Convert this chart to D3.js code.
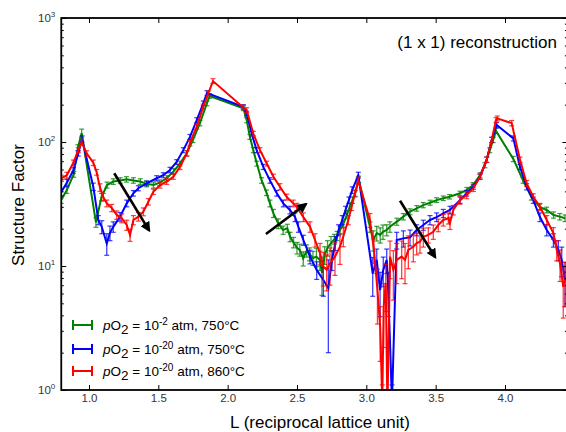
<!DOCTYPE html>
<html><head><meta charset="utf-8">
<script src="https://cdn.jsdelivr.net/npm/d3@7"></script>
<style>body{margin:0;background:#fff}</style>
</head><body>
<svg id="chart" width="566" height="432"></svg>
<script>
// [L, structure factor, error]
const greenData = [
[0.80,34,2],[0.84,41,2.5],[0.89,55,3],[0.92,90,5],[0.947,118,9],
[1.05,22.5,2],[1.09,36,2.5],[1.13,45,2.5],[1.175,48,2.5],[1.225,49,2.5],[1.27,50,2.5],[1.32,49,2.5],
[1.37,48,2.5],[1.415,46,2.5],[1.465,45,2.5],[1.51,47,2.5],[1.56,51,2.5],[1.61,58,3],[1.655,67,3],
[1.705,81,4],[1.75,104,5],[1.80,142,7],[1.85,205,9],[1.87,235,10],
[2.113,187,8],[2.137,150,7],[2.16,110,5],[2.185,86,4],[2.21,67,3],[2.245,49,2.5],[2.28,39,2],
[2.305,32,2],[2.33,26.6,2],[2.365,22,2],[2.40,19.5,1.5],[2.43,20.2,1.5],[2.45,17.2,1.5],[2.475,15.5,1.5],
[2.50,14.0,1.5],[2.52,13.5,1.5],[2.545,11.5,1.5],[2.57,13.3,1.5],[2.59,12.5,1.5],[2.615,11.6,1.5],
[2.64,11.9,2],[2.665,11.2,2],[2.68,8.8,3],[2.70,12.3,2],[2.72,14.0,2],[2.745,15.3,2],[2.77,16.5,1.5],
[2.79,17.5,1.5],[2.81,19.5,1.5],[2.835,22,1.5],[2.86,26,2],[2.88,30,2],[2.90,34,2],[2.92,38.5,2],[2.945,50,3],
[3.026,20.7,2],[3.05,16.2,3],[3.075,18.4,2.5],[3.10,17.8,2.5],[3.12,18.9,2.5],[3.147,19.5,2],[3.17,20.7,2],
[3.22,22.8,1.5],[3.267,25,1.5],[3.315,27.4,1.5],[3.363,29.2,1.5],[3.41,31,1.5],[3.46,32.4,1.5],
[3.507,34,1.5],[3.555,35.2,1.5],[3.60,36.2,1.5],[3.675,38.6,1.5],[3.725,41,2],[3.77,45,2],[3.82,54,2.5],
[3.855,65,3],[3.89,86,4],[3.915,104,5],[3.935,123,6],
[4.06,73,3.5],[4.13,49,2.5],[4.19,36,2],[4.25,30,1.5],[4.30,28.3,1.5],[4.35,25.8,1.5],[4.395,25,1.5],[4.433,24.3,1.5]
];
const blueData = [
[0.80,39.5,2.5],[0.84,47,3],[0.887,59,3],[0.923,81,4],[0.95,106,6],
[1.031,43.6,3],[1.067,23.5,2],[1.092,20.7,2.5],[1.128,15.2,3],[1.151,18.5,2.5],[1.175,20.7,2],[1.224,25,2],
[1.272,32,2],[1.32,38.6,2],[1.356,42.4,2],[1.416,46.4,2],[1.488,51,2.5],[1.536,54,2.5],[1.584,59.5,3],
[1.632,69,3],[1.68,86,4],[1.728,110,5],[1.777,150,7],[1.824,205,9],[1.851,248,11],
[2.113,192,8],[2.137,170,7],[2.173,117,5],[2.209,86,4],[2.257,63,3],[2.305,49,2.5],[2.354,38.6,2],
[2.401,32,2],[2.449,28.3,2],[2.486,24.8,2],[2.51,20.7,2],[2.546,16.2,1.5],[2.594,11.9,1.5],[2.642,9.3,1.5],
[2.69,7.7,2],[2.726,6.6,4.6],[2.752,11.2,2],[2.776,15.3,2],[2.80,19.5,2],[2.826,23.5,2],[2.85,28.3,2],
[2.874,34,2],[2.898,41,2.5],[2.942,54,3],
[3.046,8.7,3],[3.075,11.2,2.5],[3.099,6.4,2.5],[3.122,9.3,2.5],[3.147,11.2,2.5],[3.158,6.4,2.5],[3.185,0.8,0.3],
[3.219,16.2,2.5],[3.267,16.7,2.5],[3.315,17,2.5],[3.363,19.5,2],[3.411,21.4,2],[3.459,23.5,2],[3.507,24.8,2],
[3.555,26.6,2],[3.603,28.3,2],[3.676,34,2],[3.724,38.6,2],[3.772,43.6,2],[3.82,52.5,2.5],[3.868,72,3.5],
[3.904,104,5],[3.94,137,7],
[4.06,107,5],[4.108,63,3],[4.156,43.6,2.5],[4.204,34,2],[4.252,24.8,2],[4.301,19.5,2],[4.349,16.2,2],
[4.385,13.5,2.5],[4.409,11.2,3],[4.433,7.7,3]
];
const redData = [
[0.80,51,3],[0.84,54,3],[0.887,68,3.5],[0.923,86,4],[0.947,100,5],
[0.983,81,4],[1.031,68,3.5],[1.055,57,3],[1.079,43,3],[1.103,36,2.5],[1.128,32,2],[1.164,29.4,2],
[1.20,25.8,2],[1.236,24.3,2],[1.272,21.4,2],[1.296,17.8,2],[1.32,23.5,2],[1.356,25,2],[1.392,27.4,2],
[1.428,33,2],[1.464,39.7,2],[1.512,45,2.5],[1.56,48,2.5],[1.608,52.5,2.5],[1.656,63,3],[1.705,81,4],
[1.728,98,5],[1.777,133,6],[1.824,193,9],[1.86,247,11],[1.894,310,14],
[2.113,190,8],[2.137,181,8],[2.185,117,5],[2.233,86,4],[2.282,67,3],[2.33,52.5,2.5],[2.377,43.6,2.5],
[2.426,36,2],[2.473,32,2],[2.498,30,2],[2.546,24.8,2],[2.594,20.7,2],[2.63,16.2,2],[2.666,12.7,2.5],
[2.69,9.9,3],[2.714,9.3,3],[2.738,10.5,3.5],[2.774,11.9,3.5],[2.81,14.3,4],[2.834,17.3,3],[2.87,23.5,2],
[2.894,30,2],[2.918,38.5,2.5],[2.942,49,3],
[3.026,23.5,3],[3.055,13.5,3],[3.08,6.4,3],[3.10,3.2,1.5],[3.115,0.8,0.3],[3.125,4.7,2.5],[3.14,7.3,3],
[3.152,0.7,0.3],[3.171,11.9,4],[3.195,9.3,4],[3.219,11.2,4],[3.255,11.9,4],[3.279,11.2,4],[3.303,13.5,4],
[3.339,14.3,3.5],[3.363,15.3,3],[3.387,15.7,3],[3.411,17.2,3],[3.447,17.8,2.5],[3.483,18.9,2.5],
[3.519,21.4,2.5],[3.555,23.5,2.5],[3.591,24.3,2.5],[3.603,22.2,2.5],[3.627,28.3,2.5],[3.675,34,2.5],
[3.724,37.4,2.5],[3.772,42.4,2.5],[3.82,52.5,2.5],[3.868,72,3.5],[3.904,104,5],[3.935,150,7],[3.944,155,7],
[4.048,142,7],[4.108,72,3.5],[4.156,46.4,2.5],[4.204,36.2,2],[4.252,30,2],[4.301,23.5,2],[4.349,18.4,2],
[4.373,13.5,2.5],[4.397,10.5,3],[4.42,6.8,3],[4.433,7.7,3]
];
const seriesColors = ["#008000","#0000ff","#ff0000"];
const legendExponents = ["-2","-20","-20"];
const legendTemps = ["750°C","750°C","860°C"];
// arrows: [L start, F start, L end, F end]
const arrowData = [[1.182,56,1.434,19.3],[2.276,18.1,2.565,31.6],[3.243,33.6,3.497,11.75]];
const xTicks = [1.0,1.5,2.0,2.5,3.0,3.5,4.0];
const yTicks = [1,10,100,1000];
const yExponents = ["0","1","2","3"];

(function(){
const svg = d3.select("#chart");
const pL = 61.27, pR = 567.4, pT = 18, pB = 390;
const x = d3.scaleLinear().domain([0.8,4.45]).range([pL,pR]);
const y = d3.scaleLog().domain([1,1000]).range([pB,pT]);
const FONT = "Liberation Sans, Arial, sans-serif";

const defs = svg.append("defs");
defs.append("clipPath").attr("id","clip")
  .append("rect").attr("x",pL).attr("y",pT).attr("width",pR-pL).attr("height",pB-pT);
defs.append("marker").attr("id","ah").attr("viewBox","0 0 10 10")
  .attr("refX",8).attr("refY",5).attr("markerWidth",4).attr("markerHeight",4).attr("orient","auto")
  .attr("markerUnits","strokeWidth")
  .append("path").attr("d","M0,0L10,5L0,10Z").attr("fill","#000");

const plot = svg.append("g").attr("clip-path","url(#clip)");
const allSeries = [greenData, blueData, redData];
allSeries.forEach((data,i)=>{
  const col = seriesColors[i];
  const g = plot.append("g");
  g.append("path").datum(data)
    .attr("d", d3.line().x(d=>x(d[0])).y(d=>y(Math.max(d[1],0.05))))
    .attr("fill","none").attr("stroke",col).attr("stroke-width",2).attr("stroke-linejoin","miter");
  const eb = g.selectAll(".eb").data(data).enter().append("g");
  const lo = d=>y(Math.max(d[1]-d[2],0.05)), hi = d=>y(d[1]+d[2]);
  eb.append("line").attr("x1",d=>x(d[0])).attr("x2",d=>x(d[0])).attr("y1",lo).attr("y2",hi)
    .attr("stroke",col).attr("stroke-width",1.3).attr("opacity",0.75);
  eb.append("line").attr("x1",d=>x(d[0])-2.5).attr("x2",d=>x(d[0])+2.5).attr("y1",lo).attr("y2",lo)
    .attr("stroke",col).attr("stroke-width",1.2).attr("opacity",0.75);
  eb.append("line").attr("x1",d=>x(d[0])-2.5).attr("x2",d=>x(d[0])+2.5).attr("y1",hi).attr("y2",hi)
    .attr("stroke",col).attr("stroke-width",1.2).attr("opacity",0.75);
});

// arrows
svg.selectAll(".arrow").data(arrowData).enter().append("line")
  .attr("x1",d=>x(d[0])).attr("y1",d=>y(d[1])).attr("x2",d=>x(d[2])).attr("y2",d=>y(d[3]))
  .attr("stroke","#000").attr("stroke-width",2.6).attr("marker-end","url(#ah)");

// axes
const minorY = [];
[1,10,100].forEach(b=>{for(let k=2;k<=9;k++) minorY.push(b*k);});
function styleAxis(g){ g.select(".domain").remove(); g.selectAll("line").attr("stroke","#000").attr("stroke-width",1); }
svg.append("g").attr("transform",`translate(0,${pB})`)
  .call(d3.axisBottom(x).tickValues(xTicks).tickSize(-5).tickPadding(4).tickFormat(d3.format(".1f")))
  .call(styleAxis)
  .call(g=>g.selectAll("text").attr("font-family",FONT).attr("font-size","11.5px").attr("fill","#333"));
svg.append("g").attr("transform",`translate(0,${pT})`)
  .call(d3.axisTop(x).tickValues(xTicks).tickSize(-5).tickFormat(""))
  .call(styleAxis);
svg.append("g").attr("transform",`translate(${pL},0)`)
  .call(d3.axisLeft(y).tickValues(yTicks).tickSize(-5).tickFormat("")).call(styleAxis);
svg.append("g").attr("transform",`translate(${pL},0)`)
  .call(d3.axisLeft(y).tickValues(minorY).tickSize(-2.5).tickFormat("")).call(styleAxis);
svg.append("g").attr("transform",`translate(${pR},0)`)
  .call(d3.axisRight(y).tickValues(yTicks).tickSize(-5).tickFormat("")).call(styleAxis);
svg.append("g").attr("transform",`translate(${pR},0)`)
  .call(d3.axisRight(y).tickValues(minorY).tickSize(-2.5).tickFormat("")).call(styleAxis);

// y tick labels
yTicks.forEach((v,i)=>{
  const t = svg.append("text").attr("x",pL-6).attr("y",y(v)+4).attr("text-anchor","end")
    .attr("font-family",FONT).attr("font-size","11.5px").attr("fill","#333");
  t.append("tspan").text("10");
  t.append("tspan").attr("dy",-5).attr("font-size","8px").text(yExponents[i]);
});

// frame
svg.append("rect").attr("x",pL).attr("y",pT).attr("width",pR-pL).attr("height",pB-pT)
  .attr("fill","none").attr("stroke","#000").attr("stroke-width",1.8);

// labels
svg.append("text").attr("x",320).attr("y",428).attr("text-anchor","middle")
  .attr("font-family",FONT).attr("font-size","17px").attr("fill","#000")
  .text("L (reciprocal lattice unit)");
svg.append("text").attr("transform","translate(24,205) rotate(-90)").attr("text-anchor","middle")
  .attr("font-family",FONT).attr("font-size","17px").attr("fill","#000")
  .text("Structure Factor");
svg.append("text").attr("x",557).attr("y",48).attr("text-anchor","end")
  .attr("font-family",FONT).attr("font-size","17px").attr("fill","#000")
  .text("(1 x 1) reconstruction");

// legend
const legY = [325,349,371];
seriesColors.forEach((col,i)=>{
  const cy = legY[i];
  const lg = svg.append("g");
  lg.append("line").attr("x1",72.5).attr("x2",92.5).attr("y1",cy).attr("y2",cy).attr("stroke",col).attr("stroke-width",2);
  lg.append("line").attr("x1",73).attr("x2",73).attr("y1",cy-5).attr("y2",cy+5).attr("stroke",col).attr("stroke-width",2);
  lg.append("line").attr("x1",92).attr("x2",92).attr("y1",cy-5).attr("y2",cy+5).attr("stroke",col).attr("stroke-width",2);
  const t = lg.append("text").attr("x",103).attr("y",cy+5)
    .attr("font-family",FONT).attr("font-size","13.5px").attr("fill","#000");
  t.append("tspan").attr("font-style","italic").text("p");
  t.append("tspan").text("O");
  t.append("tspan").attr("dy",4).text("2");
  t.append("tspan").attr("dy",-4).text(" = 10");
  t.append("tspan").attr("dy",-5).attr("font-size","10px").text(legendExponents[i]);
  t.append("tspan").attr("dy",5).text(" atm, " + legendTemps[i]);
});
})();
</script>
</body></html>
